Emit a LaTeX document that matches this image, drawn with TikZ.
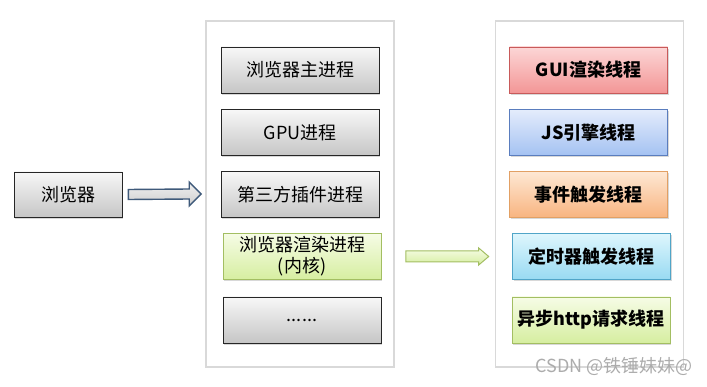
\documentclass[tikz,border=0pt]{standalone}
\usepackage{fontspec}
\setmainfont{Noto Sans CJK SC}
\usetikzlibrary{calc,shadows}

\definecolor{arrowline}{HTML}{3F5A7A}
\definecolor{greenline}{HTML}{A3BE62}
\definecolor{greentop}{HTML}{F6FCE6}
\definecolor{greenbot}{HTML}{D6EEA0}

\tikzset{
  procbox/.style={draw=black!85, line width=0.8pt, minimum width=158pt, minimum height=46pt,
    align=center, font=\fontsize{18}{22}\selectfont,
    drop shadow={shadow xshift=1.3pt, shadow yshift=-1.6pt, opacity=0.3}},
  graybox/.style={procbox, top color=gray!6, bottom color=gray!45},
  greenbox/.style={procbox, draw=greenline, top color=greentop, bottom color=greenbot},
  threadbox/.style={procbox, font=\fontsize{18}{22}\selectfont\bfseries},
  container/.style={draw=gray!30, line width=1.6pt, fill=white, minimum width=188pt, minimum height=346pt},
}

\begin{document}
\begin{tikzpicture}[x=1pt, y=-1pt]
  \useasboundingbox[fill=white] (0,0) rectangle (707,387);

  % left: the browser
  \node[graybox, minimum width=108pt, minimum height=45pt] (browser) at (68,194.5) {浏览器};

  % middle column: processes
  \node[container] (mid) at (300,194) {};
  \node[graybox] (main) at (300,70) {浏览器主进程};
  \node[graybox] (gpu) at (300,132.5) {GPU进程};
  \node[graybox] (plugin) at (300,194.5) {第三方插件进程};
  \node[greenbox, font=\fontsize{18}{21}\selectfont] (render) at (302,256.5) {浏览器渲染进程\\(内核)};
  \node[graybox] (more) at (302,320) {......};

  % right column: threads of the render process
  \node[container] (right) at (589.5,194) {};
  \node[threadbox, draw={rgb,255:red,200;green,90;blue,90}, top color={rgb,255:red,252;green,214;blue,214}, bottom color={rgb,255:red,243;green,150;blue,150}] (gui) at (588.5,70) {GUI渲染线程};
  \node[threadbox, draw={rgb,255:red,90;green,125;blue,190}, top color={rgb,255:red,228;green,236;blue,252}, bottom color={rgb,255:red,164;green,194;blue,242}] (js) at (588.5,132.5) {JS引擎线程};
  \node[threadbox, draw={rgb,255:red,226;green,160;blue,100}, top color={rgb,255:red,254;green,232;blue,212}, bottom color={rgb,255:red,248;green,180;blue,128}] (event) at (588.5,194.5) {事件触发线程};
  \node[threadbox, draw={rgb,255:red,80;green,165;blue,200}, top color={rgb,255:red,222;green,246;blue,253}, bottom color={rgb,255:red,152;green,218;blue,242}] (timer) at (591.5,256.5) {定时器触发线程};
  \node[threadbox, draw=greenline, top color=greentop, bottom color=greenbot] (http) at (591,320) {异步http请求线程};

  % block arrow: browser -> processes
  \coordinate (t1) at ($(browser.east)+(6,0)$);
  \coordinate (h1) at ($(mid.west)+(-4,0)$);
  \draw[arrowline, line width=1.4pt, line join=miter, top color=gray!12, bottom color=gray!38]
    ($(t1)+(0,-5)$) -- ($(h1)+(-12,-5)$) -- ($(h1)+(-12,-12)$) -- (h1)
    -- ($(h1)+(-12,12)$) -- ($(h1)+(-12,5)$) -- ($(t1)+(0,5)$) -- cycle;

  % block arrow: render process -> threads
  \coordinate (t2) at ($(mid.east |- render)+(11,0)$);
  \coordinate (h2) at ($(right.west |- render)+(-6,0)$);
  \draw[greenline, line width=1pt, line join=miter, top color=greentop, bottom color=greenbot]
    ($(t2)+(0,-5.5)$) -- ($(h2)+(-10,-5.5)$) -- ($(h2)+(-10,-8.5)$) -- (h2)
    -- ($(h2)+(-10,8.5)$) -- ($(h2)+(-10,5.5)$) -- ($(t2)+(0,5.5)$) -- cycle;

  \node[text=gray!65, font=\fontsize{18}{20}\selectfont] (mark) at (614,366) {CSDN @铁锤妹妹@};
\end{tikzpicture}
\end{document}
